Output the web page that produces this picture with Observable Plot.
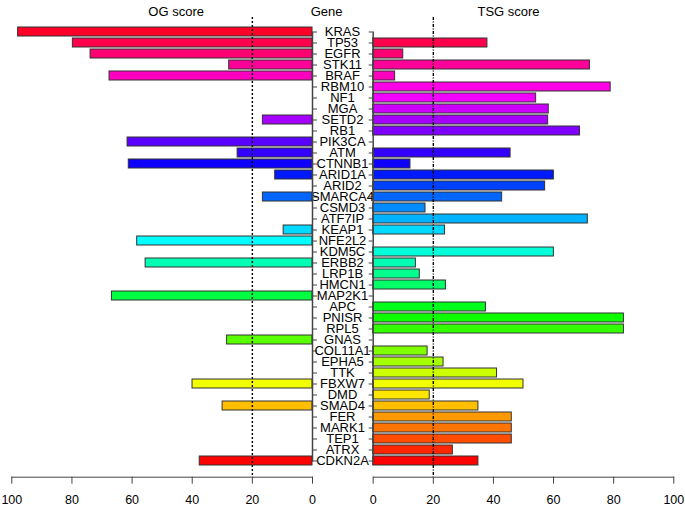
<!DOCTYPE html>
<html><head><meta charset="utf-8">
<script src="https://cdn.jsdelivr.net/npm/d3@7"></script>
<script src="https://cdn.jsdelivr.net/npm/@observablehq/plot@0.6"></script>
<style>
body{margin:0;background:#fff;}
#chart{position:relative;width:685px;height:507px;}
#chart svg{position:absolute;top:0;}
</style></head><body><div id="chart"></div>
<script>
const genes = ["KRAS","TP53","EGFR","STK11","BRAF","RBM10","NF1","MGA","SETD2","RB1",
  "PIK3CA","ATM","CTNNB1","ARID1A","ARID2","SMARCA4","CSMD3","ATF7IP","KEAP1","NFE2L2",
  "KDM5C","ERBB2","LRP1B","HMCN1","MAP2K1","APC","PNISR","RPL5","GNAS","COL11A1",
  "EPHA5","TTK","FBXW7","DMD","SMAD4","FER","MARK1","TEP1","ATRX","CDKN2A"];
const ogScore = [97.9,79.7,73.8,27.7,67.5,null,null,null,16.5,null,
  61.5,24.9,61.1,12.4,null,16.5,null,null,9.6,58.3,
  null,55.5,null,null,66.7,null,null,null,28.4,null,
  null,null,39.9,null,29.9,null,null,null,null,37.5];
const tsgScore = [null,38.0,10.0,72.1,7.3,79.0,54.2,58.4,58.2,68.8,
  null,45.7,12.4,60.1,57.2,42.9,17.4,71.4,23.9,null,
  60.1,14.2,15.5,24.2,null,37.5,83.4,83.4,null,18.1,
  23.4,41.2,50.0,18.8,35.0,46.1,46.1,46.1,26.5,35.0];
const xTicks = [0,20,40,60,80,100];
const cutoff = 20;

const rows = genes.map((gene, i) => ({gene, og: ogScore[i], tsg: tsgScore[i]}));
const ends = [genes[0], genes[genes.length - 1]];
// R rainbow(n) from bottom to top
const n = genes.length;
const colors = genes.map((g, k) => d3.hsl(360 * (n - 1 - k) / n, 1, 0.5).formatHex());

const font = "'Liberation Sans', Arial, sans-serif";
const common = {
  height: 507, marginTop: 17, marginBottom: 30.3,
  y: {type: "band", domain: genes, padding: 0.2, insetTop: 1.5, insetBottom: 4.3},
  color: {type: "ordinal", domain: genes, range: colors},
  style: {background: "transparent", overflow: "visible", fontFamily: font, fontSize: "13px", color: "#000"}
};

const left = Plot.plot({
  ...common, width: 342, marginLeft: 11.3, marginRight: 30,
  x: {domain: [0, 100], reverse: true},
  marks: [
    Plot.barX(rows.filter(d => d.og != null), {x: "og", y: "gene", fill: "gene", stroke: "#333", strokeWidth: 1}),
    Plot.ruleX([cutoff], {stroke: "#000", strokeDasharray: "2,2", strokeWidth: 1.4}),
    Plot.axisX({anchor: "bottom", ticks: xTicks, tickSize: 7, tickPadding: 11, fontSize: 12.5, label: null, stroke: "#444"}),
    Plot.frame({anchor: "bottom", stroke: "#444"}),
    Plot.axisY({anchor: "right", tickSize: 4, tickPadding: 26, textAnchor: "middle", fontSize: 13, label: null, stroke: "#444"}),
    Plot.line(ends, {x: () => 0, y: d => d, stroke: "#444"}),
    Plot.text(["OG score"], {frameAnchor: "top", dx: 14, dy: -11, fontSize: 13}),
    Plot.text(["Gene"], {frameAnchor: "top-right", dx: 30, dy: -11, fontSize: 13})
  ]
});

const right = Plot.plot({
  ...common, width: 343, marginLeft: 30.7, marginRight: 11.7,
  x: {domain: [0, 100]},
  marks: [
    Plot.barX(rows.filter(d => d.tsg != null), {x: "tsg", y: "gene", fill: "gene", stroke: "#333", strokeWidth: 1}),
    Plot.ruleX([cutoff], {stroke: "#000", strokeDasharray: "3,1.5,1,1.5", strokeWidth: 1.4}),
    Plot.axisX({anchor: "bottom", ticks: xTicks, tickSize: 7, tickPadding: 11, fontSize: 12.5, label: null, stroke: "#444"}),
    Plot.frame({anchor: "bottom", stroke: "#444"}),
    Plot.axisY({anchor: "left", tickSize: 4, tickFormat: () => "", label: null, stroke: "#444"}),
    Plot.line(ends, {x: () => 0, y: d => d, stroke: "#444"}),
    Plot.text(["TSG score"], {frameAnchor: "top", dx: -15, dy: -11, fontSize: 13})
  ]
});

const chart = document.getElementById("chart");
left.style.left = "0px";
right.style.left = "342px";
chart.appendChild(left);
chart.appendChild(right);
</script></body></html>
